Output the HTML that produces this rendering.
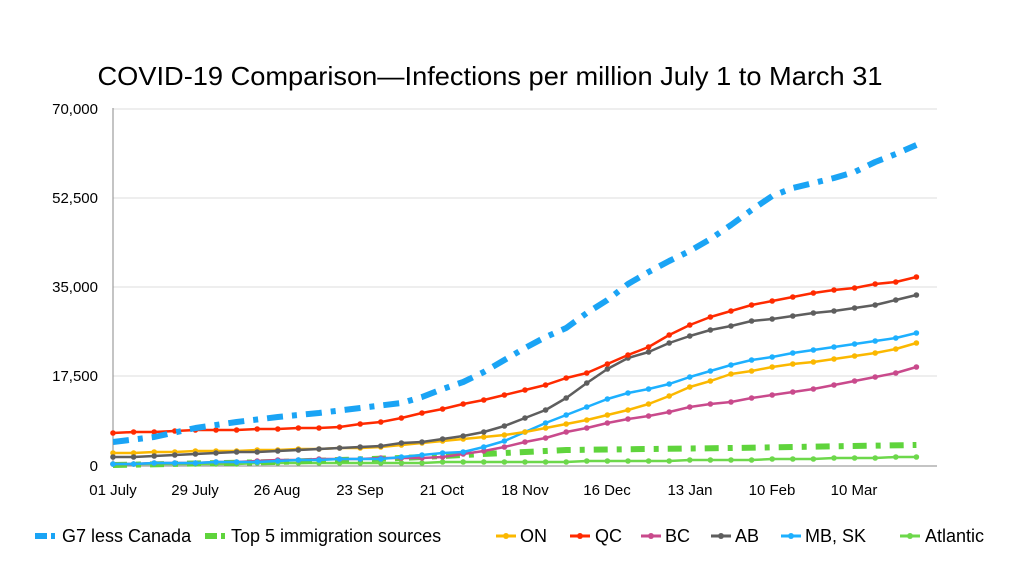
<!DOCTYPE html>
<html><head><meta charset="utf-8"><style>
html,body{margin:0;padding:0;background:#fff;}
svg{display:block;font-family:"Liberation Sans",sans-serif;}
</style></head><body>
<svg width="1024" height="576" viewBox="0 0 1024 576" xmlns="http://www.w3.org/2000/svg">
<defs>
<marker id="mQC" markerWidth="6" markerHeight="6" refX="3" refY="3" markerUnits="userSpaceOnUse"><circle cx="3" cy="3" r="2.8" fill="#ff2a00"/></marker>
<marker id="mAB" markerWidth="6" markerHeight="6" refX="3" refY="3" markerUnits="userSpaceOnUse"><circle cx="3" cy="3" r="2.8" fill="#5e5e5e"/></marker>
<marker id="mON" markerWidth="6" markerHeight="6" refX="3" refY="3" markerUnits="userSpaceOnUse"><circle cx="3" cy="3" r="2.8" fill="#fbb800"/></marker>
<marker id="mMB" markerWidth="6" markerHeight="6" refX="3" refY="3" markerUnits="userSpaceOnUse"><circle cx="3" cy="3" r="2.8" fill="#1db0ff"/></marker>
<marker id="mBC" markerWidth="6" markerHeight="6" refX="3" refY="3" markerUnits="userSpaceOnUse"><circle cx="3" cy="3" r="2.8" fill="#c94a8c"/></marker>
<marker id="mAT" markerWidth="6" markerHeight="6" refX="3" refY="3" markerUnits="userSpaceOnUse"><circle cx="3" cy="3" r="2.8" fill="#6dd84b"/></marker>
</defs>
<text x="490" y="85" font-size="26" text-anchor="middle" textLength="785" lengthAdjust="spacingAndGlyphs" fill="#000">COVID-19 Comparison—Infections per million July 1 to March 31</text>
<g stroke="#dcdcdc" stroke-width="1">
<line x1="113" y1="109" x2="937" y2="109"/><line x1="113" y1="198" x2="937" y2="198"/>
<line x1="113" y1="287" x2="937" y2="287"/><line x1="113" y1="376" x2="937" y2="376"/>
</g>
<line x1="113" y1="108" x2="113" y2="466" stroke="#8a8a8a" stroke-width="1"/>
<line x1="113" y1="466" x2="937" y2="466" stroke="#8a8a8a" stroke-width="1"/>
<g font-size="15" text-anchor="end" fill="#000">
<text x="98" y="114">70,000</text><text x="98" y="203">52,500</text><text x="98" y="292">35,000</text><text x="98" y="381">17,500</text><text x="98" y="471">0</text>
</g>
<g font-size="15" text-anchor="middle" fill="#000">
<text x="113" y="495">01 July</text><text x="195" y="495">29 July</text><text x="277" y="495">26 Aug</text><text x="360" y="495">23 Sep</text><text x="442" y="495">21 Oct</text><text x="525" y="495">18 Nov</text><text x="607" y="495">16 Dec</text><text x="690" y="495">13 Jan</text><text x="772" y="495">10 Feb</text><text x="854" y="495">10 Mar</text>
</g>
<g fill="none" stroke-linejoin="round">
<polyline stroke="#6dd84b" stroke-width="2.5" marker-start="url(#mAT)" marker-mid="url(#mAT)" marker-end="url(#mAT)" points="113,464 133.6,464 154.2,464 174.8,464 195.4,464 216,464 236.6,464 257.2,463 277.8,463 298.4,463 319,463 339.6,463 360.2,463 380.8,463 401.4,463 422,463 442.6,462 463.2,462 483.8,462 504.4,462 525,462 545.6,462 566.2,462 586.8,461 607.4,461 628,461 648.6,461 669.2,461 689.8,460 710.4,460 731,460 751.6,460 772.2,459 792.8,459 813.4,459 834,458 854.6,458 875.2,458 895.8,457 916.4,457"/>
<polyline stroke="#5fd43c" stroke-width="6" stroke-dasharray="14,9,5,9" points="113,465 277.8,462 401.4,458 525,452 566.2,450 731,448 916.4,445"/>
<polyline stroke="#c94a8c" stroke-width="2.5" marker-start="url(#mBC)" marker-mid="url(#mBC)" marker-end="url(#mBC)" points="113,464 133.6,464 154.2,463 174.8,463 195.4,463 216,462 236.6,462 257.2,461 277.8,460 298.4,460 319,459 339.6,459 360.2,459 380.8,458 401.4,458 422,458 442.6,457 463.2,454 483.8,451 504.4,447 525,442 545.6,438 566.2,432 586.8,428 607.4,423 628,419 648.6,416 669.2,412 689.8,407 710.4,404 731,402 751.6,398 772.2,395 792.8,392 813.4,389 834,385 854.6,381 875.2,377 895.8,373 916.4,367"/>
<polyline stroke="#1db0ff" stroke-width="2.5" marker-start="url(#mMB)" marker-mid="url(#mMB)" marker-end="url(#mMB)" points="113,464 133.6,464 154.2,463 174.8,463 195.4,463 216,462 236.6,462 257.2,462 277.8,461 298.4,460 319,460 339.6,459 360.2,459 380.8,459 401.4,457 422,455 442.6,453 463.2,452 483.8,447 504.4,441 525,432 545.6,423 566.2,415 586.8,407 607.4,399 628,393 648.6,389 669.2,384 689.8,377 710.4,371 731,365 751.6,360 772.2,357 792.8,353 813.4,350 834,347 854.6,344 875.2,341 895.8,338 916.4,333"/>
<polyline stroke="#fbb800" stroke-width="2.5" marker-start="url(#mON)" marker-mid="url(#mON)" marker-end="url(#mON)" points="113,453 133.6,453 154.2,452 174.8,452 195.4,451 216,451 236.6,451 257.2,450 277.8,450 298.4,449 319,449 339.6,448 360.2,448 380.8,447 401.4,445 422,443 442.6,441 463.2,439 483.8,437 504.4,435 525,432 545.6,428 566.2,424 586.8,420 607.4,415 628,410 648.6,404 669.2,396 689.8,387 710.4,381 731,374 751.6,371 772.2,367 792.8,364 813.4,362 834,359 854.6,356 875.2,353 895.8,349 916.4,343"/>
<polyline stroke="#5e5e5e" stroke-width="2.5" marker-start="url(#mAB)" marker-mid="url(#mAB)" marker-end="url(#mAB)" points="113,457 133.6,457 154.2,456 174.8,455 195.4,454 216,453 236.6,452 257.2,452 277.8,451 298.4,450 319,449 339.6,448 360.2,447 380.8,446 401.4,443 422,442 442.6,439 463.2,436 483.8,432 504.4,426 525,418 545.6,410 566.2,398 586.8,383 607.4,369 628,358 648.6,352 669.2,343 689.8,336 710.4,330 731,326 751.6,321 772.2,319 792.8,316 813.4,313 834,311 854.6,308 875.2,305 895.8,300 916.4,295"/>
<polyline stroke="#ff2a00" stroke-width="2.5" marker-start="url(#mQC)" marker-mid="url(#mQC)" marker-end="url(#mQC)" points="113,433 133.6,432 154.2,432 174.8,431 195.4,430 216,430 236.6,430 257.2,429 277.8,429 298.4,428 319,428 339.6,427 360.2,424 380.8,422 401.4,418 422,413 442.6,409 463.2,404 483.8,400 504.4,395 525,390 545.6,385 566.2,378 586.8,373 607.4,364 628,355 648.6,347 669.2,335 689.8,325 710.4,317 731,311 751.6,305 772.2,301 792.8,297 813.4,293 834,290 854.6,288 875.2,284 895.8,282 916.4,277"/>
<polyline stroke="#1aa4f5" stroke-width="6" stroke-dasharray="16,9,5,9" points="113,442 154.2,437 195.4,428 236.6,422 277.8,417 319,413 360.2,408 401.4,403 422,397 442.6,389 463.2,382 483.8,372 504.4,360 525,348 545.6,337 566.2,328 586.8,313 607.4,300 628,284 648.6,272 669.2,261 689.8,251 710.4,239 731,225 751.6,210 772.2,196 792.8,188 813.4,183 834,178 854.6,172 875.2,162 895.8,154 916.4,145"/>
</g>
<g font-size="18" fill="#000">
<line x1="35" y1="536" x2="57" y2="536" stroke="#1aa4f5" stroke-width="6" stroke-dasharray="12,4,4,4"/><text x="62" y="542">G7 less Canada</text>
<line x1="205" y1="536" x2="226" y2="536" stroke="#5fd43c" stroke-width="6" stroke-dasharray="12,4,4,4"/><text x="231" y="542">Top 5 immigration sources</text>
<line x1="496" y1="536" x2="516" y2="536" stroke="#fbb800" stroke-width="3"/><circle cx="506" cy="536" r="3" fill="#fbb800"/><text x="520" y="542">ON</text>
<line x1="570" y1="536" x2="590" y2="536" stroke="#ff2a00" stroke-width="3"/><circle cx="580" cy="536" r="3" fill="#ff2a00"/><text x="595" y="542">QC</text>
<line x1="641" y1="536" x2="661" y2="536" stroke="#c94a8c" stroke-width="3"/><circle cx="651" cy="536" r="3" fill="#c94a8c"/><text x="665" y="542">BC</text>
<line x1="711" y1="536" x2="731" y2="536" stroke="#5e5e5e" stroke-width="3"/><circle cx="721" cy="536" r="3" fill="#5e5e5e"/><text x="735" y="542">AB</text>
<line x1="781" y1="536" x2="801" y2="536" stroke="#1db0ff" stroke-width="3"/><circle cx="791" cy="536" r="3" fill="#1db0ff"/><text x="805" y="542">MB, SK</text>
<line x1="900" y1="536" x2="920" y2="536" stroke="#6dd84b" stroke-width="3"/><circle cx="910" cy="536" r="3" fill="#6dd84b"/><text x="925" y="542">Atlantic</text>
</g>
</svg>
</body></html>
